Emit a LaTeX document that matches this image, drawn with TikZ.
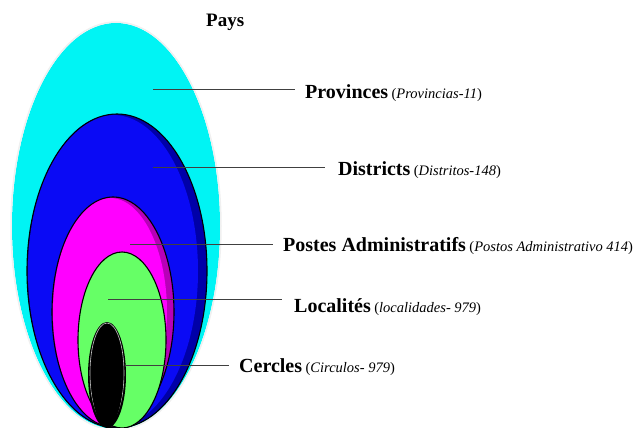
\documentclass[tikz,border=0pt]{standalone}
\usepackage{fontspec}
\setmainfont{Liberation Serif}
\definecolor{cyanE}{HTML}{00F4F4}
\definecolor{blueE}{HTML}{0A0AF5}
\definecolor{blueD}{HTML}{0000A8}
\definecolor{magE}{HTML}{FF00FF}
\definecolor{magD}{HTML}{B800B8}
\definecolor{greenE}{HTML}{66FF66}
\definecolor{lineC}{HTML}{404040}
\newcommand{\bigb}[1]{{\fontsize{20}{22}\selectfont\bfseries #1}}
\newcommand{\smi}[1]{\hspace{3.5pt}{\fontsize{14.5}{16}\selectfont (\textit{#1})}}
\tikzset{
  lbl/.style={anchor=base west, inner sep=0pt, font=\fontsize{20}{22}\selectfont},
  lead/.style={draw=lineC, line width=1pt},
  rim/.style={draw=black, line width=1.1pt}
}
\begin{document}
\begin{tikzpicture}[x=1pt,y=-1pt]
\useasboundingbox (0,0) rectangle (637,428);
\begin{scope}
\clip (0,0) rectangle (637,428);
% cyan
\fill[cyanE] (116,226) ellipse [x radius=104, y radius=203];
\draw[gray!12, line width=1.5pt] (116,226) ellipse [x radius=105, y radius=204];
% blue
\fill[blueD] (117,271) ellipse [x radius=90, y radius=157];
\fill[blueE] (113,271) ellipse [x radius=85, y radius=156];
\draw[rim] (117,271) ellipse [x radius=90, y radius=157];
% magenta
\fill[magD] (113,312) ellipse [x radius=61, y radius=115];
\fill[magE] (110,312) ellipse [x radius=57, y radius=114];
\draw[rim] (113,312) ellipse [x radius=61, y radius=115];
% green
\fill[greenE] (122,340) ellipse [x radius=44, y radius=88];
\draw[rim] (122,340) ellipse [x radius=44, y radius=88];
% black
\fill[black] (107,375) ellipse [x radius=19, y radius=53];
\draw[gray!45, line width=0.6pt] (107,373) ellipse [x radius=17, y radius=50];
\fill[black] (107,377) ellipse [x radius=16, y radius=49];
\end{scope}

% labels
\node[lbl] (pays) at (206,27) {\fontsize{19}{21}\selectfont\bfseries Pays};
\node[lbl] (prov) at (305,99) {\bigb{Provinces}\smi{Provincias-11}};
\node[lbl] (dist) at (338,175) {\bigb{Districts}\smi{Distritos-148}};
\node[lbl] (post) at (283,251) {\bigb{Postes Administratifs}\smi{Postos Administrativo 414}};
\node[lbl] (loc)  at (294,312) {\bigb{Localités}\smi{localidades- 979}};
\node[lbl] (cer)  at (239,372) {\bigb{Cercles}\smi{Circulos- 979}};

% leader lines
\coordinate (provA) at (153,89);  \coordinate (provB) at (295,89);
\coordinate (distA) at (153,167); \coordinate (distB) at (325,167);
\coordinate (postA) at (130,244); \coordinate (postB) at (273,244);
\coordinate (locA)  at (108,299); \coordinate (locB)  at (282,299);
\coordinate (cerA)  at (125,365); \coordinate (cerB)  at (229,365);
\draw[lead] (provA) -- (provB);
\draw[lead] (distA) -- (distB);
\draw[lead] (postA) -- (postB);
\draw[lead] (locA) -- (locB);
\draw[lead] (cerA) -- (cerB);
\end{tikzpicture}
\end{document}
